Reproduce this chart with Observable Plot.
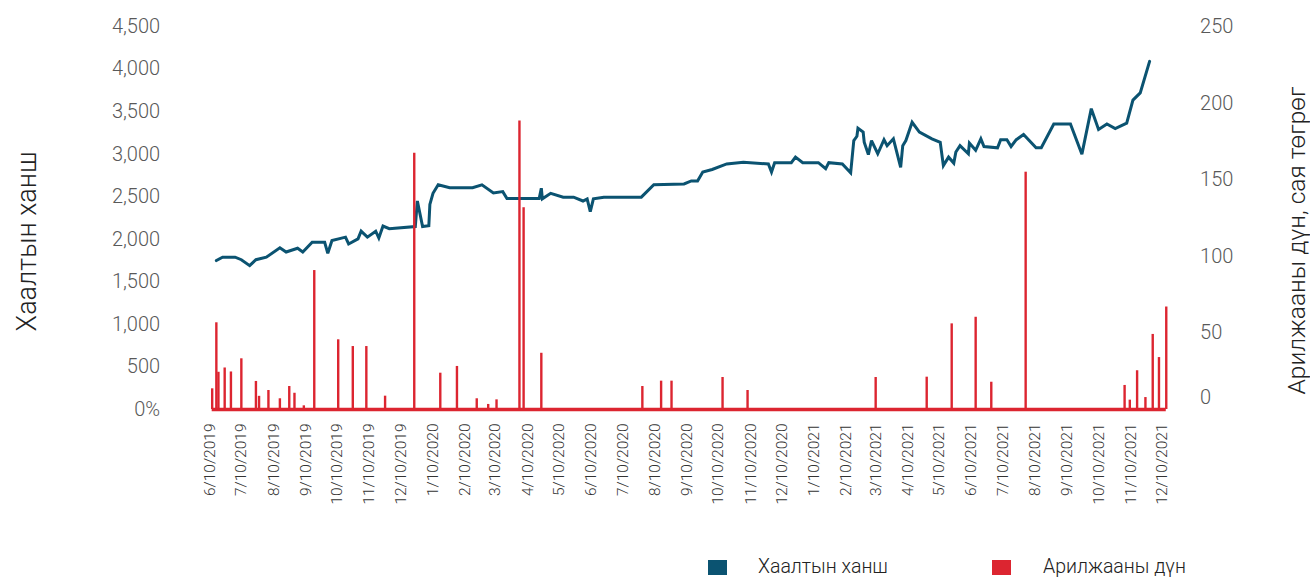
<!DOCTYPE html>
<html><head><meta charset="utf-8">
<script src="https://cdn.jsdelivr.net/npm/d3@7"></script>
<script src="https://cdn.jsdelivr.net/npm/@observablehq/plot@0.6"></script>
<style>
body{margin:0;background:#fff;font-family:Roboto,sans-serif;}
#chart{position:relative;width:1310px;height:581px;overflow:hidden;}
.legend{position:absolute;top:556px;left:0;width:1310px;height:24px;font-size:19.5px;font-weight:300;color:#222;}
.sw{position:absolute;top:4px;width:19px;height:15px;}
.lt{position:absolute;top:0px;white-space:nowrap;line-height:22px;}
</style></head><body><div id="chart"></div>
<script>
const closeDates = ["2019-06-16","2019-06-22","2019-07-04","2019-07-10","2019-07-18","2019-07-24","2019-08-03","2019-08-16","2019-08-22","2019-09-02","2019-09-07","2019-09-16","2019-09-28","2019-10-01","2019-10-05","2019-10-18","2019-10-21","2019-10-30","2019-11-02","2019-11-08","2019-11-16","2019-11-19","2019-11-23","2019-11-29","2019-12-24","2019-12-26","2019-12-31","2020-01-06","2020-01-07","2020-01-10","2020-01-15","2020-01-26","2020-02-17","2020-02-26","2020-03-08","2020-03-17","2020-03-21","2020-04-21","2020-04-23","2020-04-24","2020-05-02","2020-05-14","2020-05-24","2020-06-02","2020-06-06","2020-06-09","2020-06-12","2020-06-22","2020-07-28","2020-08-09","2020-09-07","2020-09-14","2020-09-20","2020-09-25","2020-10-04","2020-10-18","2020-11-03","2020-11-27","2020-11-30","2020-12-03","2020-12-19","2020-12-23","2020-12-30","2021-01-14","2021-01-21","2021-01-24","2021-02-06","2021-02-14","2021-02-17","2021-02-20","2021-02-21","2021-02-26","2021-02-27","2021-03-03","2021-03-06","2021-03-12","2021-03-18","2021-03-21","2021-03-27","2021-04-03","2021-04-05","2021-04-08","2021-04-14","2021-04-21","2021-05-03","2021-05-11","2021-05-14","2021-05-19","2021-05-24","2021-05-26","2021-05-30","2021-06-07","2021-06-08","2021-06-14","2021-06-19","2021-06-22","2021-07-05","2021-07-08","2021-07-14","2021-07-18","2021-07-23","2021-07-30","2021-08-11","2021-08-16","2021-08-28","2021-09-13","2021-09-24","2021-10-03","2021-10-10","2021-10-18","2021-10-26","2021-11-06","2021-11-12","2021-11-19","2021-11-28"];
const closeValues = [1750,1790,1790,1760,1690,1760,1790,1900,1850,1895,1850,1965,1965,1835,1985,2025,1945,2005,2095,2025,2095,2015,2155,2125,2150,2450,2150,2160,2410,2540,2640,2605,2605,2640,2545,2560,2480,2480,2600,2475,2540,2495,2495,2450,2475,2325,2475,2495,2495,2640,2650,2685,2685,2790,2820,2885,2905,2885,2790,2900,2900,2965,2900,2900,2830,2900,2885,2780,3160,3210,3305,3260,3140,2995,3160,3005,3170,3100,3180,2845,3100,3160,3375,3260,3180,3140,2865,2965,2895,3025,3100,3005,3130,3045,3180,3090,3075,3170,3170,3090,3170,3230,3075,3075,3355,3355,3000,3535,3290,3355,3300,3365,3635,3720,4090];
const volumeDates = ["2019-06-12","2019-06-16","2019-06-18","2019-06-24","2019-06-30","2019-07-10","2019-07-24","2019-07-27","2019-08-05","2019-08-16","2019-08-25","2019-08-30","2019-09-08","2019-09-18","2019-10-11","2019-10-25","2019-11-07","2019-11-25","2019-12-23","2020-01-17","2020-02-02","2020-02-21","2020-03-03","2020-03-11","2020-04-02","2020-04-06","2020-04-23","2020-07-29","2020-08-16","2020-08-26","2020-10-14","2020-11-07","2021-03-10","2021-04-28","2021-05-22","2021-06-14","2021-06-29","2021-08-01","2021-11-04","2021-11-09","2021-11-16","2021-11-24","2021-12-01","2021-12-07","2021-12-14"];
const volumeValues = [13.5,56.6,24.3,27.1,24.5,33.1,18.3,8.6,12.4,7.0,15.0,10.6,2.4,90.7,45.5,41.1,41.1,8.7,167.3,23.7,28.1,7.0,3.3,6.3,188.3,131.7,36.7,15.0,18.5,18.5,20.9,12.4,20.9,21.1,55.9,60.2,17.8,154.9,15.7,6.1,25.3,7.8,49.0,33.9,66.9];
const xTickLabels = ["6/10/2019","7/10/2019","8/10/2019","9/10/2019","10/10/2019","11/10/2019","12/10/2019","1/10/2020","2/10/2020","3/10/2020","4/10/2020","5/10/2020","6/10/2020","7/10/2020","8/10/2020","9/10/2020","10/10/2020","11/10/2020","12/10/2020","1/10/2021","2/10/2021","3/10/2021","4/10/2021","5/10/2021","6/10/2021","7/10/2021","8/10/2021","9/10/2021","10/10/2021","11/10/2021","12/10/2021"];
const leftTicks = [0,500,1000,1500,2000,2500,3000,3500,4000,4500];
const rightTicks = [0,50,100,150,200,250];
const seriesNames = ["Хаалтын ханш","Арилжааны дүн"];
const axisTitles = ["Хаалтын ханш","Арилжааны дүн, сая төгрөг"];
const colors = ["#0b5371","#dc2530"];

const parseISO = d3.utcParse("%Y-%m-%d");
const parseUS = d3.utcParse("%m/%d/%Y");
const closeData = closeDates.map((d,i)=>({date:parseISO(d), v:closeValues[i]}));
const volData = volumeDates.map((d,i)=>({date:parseISO(d), v:volumeValues[i]}));
const xTicks = xTickLabels.map(parseUS);
const k = d3.max(leftTicks)/d3.max(rightTicks);
const baseData = [{x1: d3.min(volData,d=>d.date), x2: d3.max(volData,d=>d.date), y:0}];

const chart = Plot.plot({
  width:1310, height:550,
  marginLeft:209.6, marginRight:148.4, marginTop:26, marginBottom:141,
  style:{fontFamily:"Roboto, sans-serif", fontWeight:300, background:"#fff", overflow:"visible"},
  x:{type:"utc", domain:[xTicks[0], xTicks[xTicks.length-1]]},
  y:{domain:[0, d3.max(leftTicks)]},
  marks:[
    Plot.axisX({ticks:xTicks, tickFormat:d3.utcFormat("%-m/%-d/%Y"), tickRotate:-90, tickSize:0, tickPadding:14, fontSize:15.5, label:null, color:"#333"}),
    Plot.axisY({anchor:"left", ticks:leftTicks, tickFormat:d=>d===0?"0%":d3.format(",")(d), tickSize:0, tickPadding:50, fontSize:20, label:null, color:"#595959"}),
    Plot.axisY({anchor:"right", ticks:rightTicks.filter(v=>v>0).map(v=>v*k), tickFormat:v=>String(Math.round(v/k)), tickSize:0, tickPadding:38, fontSize:20, label:null, color:"#595959"}),
    Plot.axisY({anchor:"right", ticks:[0], tickFormat:()=>"0", tickSize:0, tickPadding:38, dy:-12, fontSize:20, label:null, color:"#595959"}),
    Plot.line(closeData, {x:"date", y:"v", stroke:colors[0], strokeWidth:3, strokeLinejoin:"miter", strokeMiterlimit:3}),
    Plot.ruleX(volData, {x:"date", y1:0, y2:d=>d.v*k, stroke:colors[1], strokeWidth:2.4}),
    Plot.ruleY(baseData, {x1:"x1", x2:"x2", y:"y", stroke:colors[1], strokeWidth:3.5}),
    Plot.text([axisTitles[0]], {frameAnchor:"left", textAnchor:"middle", dx:-182.6, dy:23.5, rotate:-90, fontSize:27, fill:"#222", fontWeight:300}),
    Plot.text([axisTitles[1]], {frameAnchor:"right", textAnchor:"middle", dx:135.4, dy:22.5, rotate:-90, fontSize:24.5, fill:"#222", fontWeight:300})
  ]
});
const host = document.getElementById("chart");
host.appendChild(chart);
const lg = document.createElement("div");
lg.className = "legend";
lg.innerHTML = `<div class="sw" style="left:708px;background:${colors[0]}"></div><div class="lt" style="left:758px">${seriesNames[0]}</div>
<div class="sw" style="left:992px;background:${colors[1]}"></div><div class="lt" style="left:1043px">${seriesNames[1]}</div>`;
host.appendChild(lg);
</script>
</body></html>
